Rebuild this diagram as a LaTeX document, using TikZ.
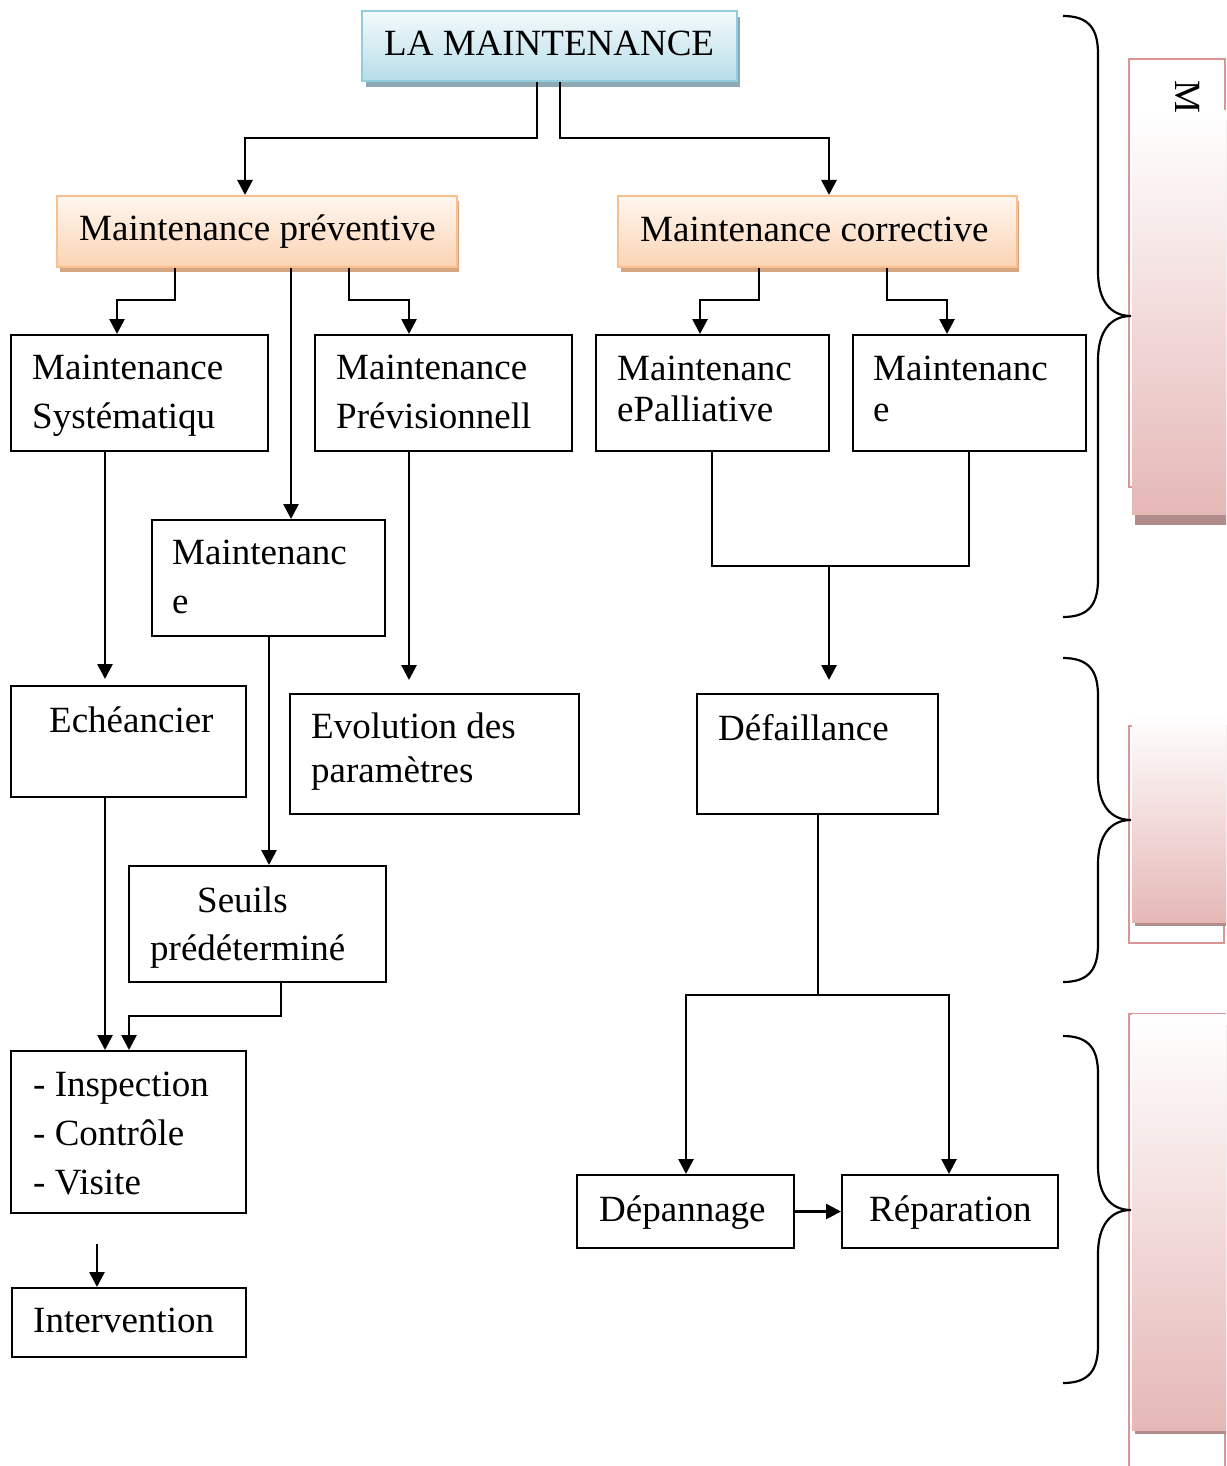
\documentclass[tikz,border=0pt]{standalone}
\usepackage{fontspec}
\setmainfont{Liberation Serif}
\usetikzlibrary{arrows.meta,calc}
\definecolor{blueTop}{HTML}{F4FAFC}
\definecolor{blueBot}{HTML}{B6DDE8}
\definecolor{blueBorder}{HTML}{92CDDC}
\definecolor{blueShadow}{HTML}{8EA9B2}
\definecolor{orTop}{HTML}{FFF6EF}
\definecolor{orBot}{HTML}{FBD4B4}
\definecolor{orBorder}{HTML}{FABF8F}
\definecolor{orShadow}{HTML}{D4A682}
\definecolor{pkTop}{HTML}{FFFFFF}
\definecolor{pkBot}{HTML}{E5B8B7}
\definecolor{pkBorder}{HTML}{DA9694}
\definecolor{pkShadow}{HTML}{B08D8C}
\newcommand\mkbox[6][plainbox]{%
  \node[#1, minimum width={#5-#3}, minimum height={#6-#4}] (#2) at ({(#3+#5)/2},{(#4+#6)/2}) {};}
\newcommand\mkbrace[3]{%
  \draw[bracestyle] (1063,#1) .. controls (1090,#1) and (1098,{#1+14}) .. (1098,{#1+38})
    -- (1098,{#2-44}) .. controls (1098,{#2-16}) and (1110,#2) .. (1131,#2)
    .. controls (1110,#2) and (1098,{#2+16}) .. (1098,{#2+44})
    -- (1098,{#3-38}) .. controls (1098,{#3-14}) and (1090,#3) .. (1063,#3);}
\begin{document}
\begin{tikzpicture}[x=1pt,y=-1pt,
  plainbox/.style={draw=black, line width=2pt, rectangle, inner sep=0pt},
  bluebox/.style={draw=blueBorder, line width=2pt, rectangle, inner sep=0pt, top color=blueTop, bottom color=blueBot},
  orbox/.style={draw=orBorder, line width=2pt, rectangle, inner sep=0pt, top color=orTop, bottom color=orBot},
  conn/.style={line width=2.7pt, line join=miter},
  arr/.style={conn, -{Triangle[width=15pt 0 1,length=15pt 0 1]}},
  txt/.style={anchor=base west, inner sep=0pt, font=\fontsize{37}{44}\selectfont},
  bracestyle/.style={line width=2.2pt},
]
\useasboundingbox (0,0) rectangle (1226,1466);
\clip (0,0) rectangle (1226,1466);
\fill[white] (0,0) rectangle (1226,1466);

% ---- right side panels ----
\draw[pkBorder, line width=2pt] (1129,59) rectangle (1225,487);
\fill[pkShadow] (1135,120) rectangle (1230,525);
\shade[top color=pkTop, bottom color=pkBot] (1132,111) rectangle (1230,514);
\node[anchor=base west, inner sep=0pt, rotate=-90, font=\fontsize{37}{44}\selectfont] (mlabel) at (1175,80) {M};

\draw[pkBorder, line width=2pt] (1129,726) rectangle (1224,943);
\fill[pkShadow] (1135,725) rectangle (1230,926);
\shade[top color=pkTop, bottom color=pkBot] (1132,713) rectangle (1230,922);

\draw[pkBorder, line width=2pt] (1129,1014) rectangle (1225,1490);
\fill[pkShadow] (1135,1025) rectangle (1230,1434);
\shade[top color=pkTop, bottom color=pkBot] (1132,1014) rectangle (1230,1430);

% ---- braces ----
\mkbrace{16}{316}{617}
\mkbrace{658}{820}{982}
\mkbrace{1036}{1210}{1383}

% ---- header boxes ----
\fill[blueShadow] (366,17) rectangle (740,87);
\mkbox[bluebox]{top}{362}{11}{737}{81}
\node[txt] (toptxt) at (384,56) {LA MAINTENANCE};

\fill[orShadow] (60,201) rectangle (459,272);
\mkbox[orbox]{pv}{57}{196}{457}{267}
\node[txt] (pvtxt) at (79,240) {Maintenance préventive};

\fill[orShadow] (621,201) rectangle (1019,272);
\mkbox[orbox]{pc}{618}{196}{1017}{267}
\node[txt] (pctxt) at (640,241) {Maintenance corrective};

% ---- plain boxes ----
\mkbox{sys}{11}{335}{268}{451}
\node[txt] (sys1) at (32,379) {Maintenance};
\node[txt] (sys2) at (32,428) {Systématiqu};

\mkbox{prev}{315}{335}{572}{451}
\node[txt] (prev1) at (336,379) {Maintenance};
\node[txt] (prev2) at (336,428) {Prévisionnell};

\mkbox{pal}{596}{335}{829}{451}
\node[txt] (pal1) at (617,380) {Maintenanc};
\node[txt] (pal2) at (617,421) {ePalliative};

\mkbox{mce}{853}{335}{1086}{451}
\node[txt] (mce1) at (873,380) {Maintenanc};
\node[txt] (mce2) at (873,421) {e};

\mkbox{mmid}{152}{520}{385}{636}
\node[txt] (mmid1) at (172,564) {Maintenanc};
\node[txt] (mmid2) at (172,613) {e};

\mkbox{ech}{11}{686}{246}{797}
\node[txt] (ech1) at (49,732) {Echéancier};

\mkbox{evo}{290}{694}{579}{814}
\node[txt] (evo1) at (311,738) {Evolution des};
\node[txt] (evo2) at (311,782) {paramètres};

\mkbox{def}{697}{694}{938}{814}
\node[txt] (def1) at (718,740) {Défaillance};

\mkbox{seu}{129}{866}{386}{982}
\node[txt] (seu1) at (197,912) {Seuils};
\node[txt] (seu2) at (150,960) {prédéterminé};

\mkbox{ins}{11}{1051}{246}{1213}
\node[txt] (ins1) at (33,1096) {- Inspection};
\node[txt] (ins2) at (33,1145) {- Contrôle};
\node[txt] (ins3) at (33,1194) {- Visite};

\mkbox{int}{12}{1288}{246}{1357}
\node[txt] (int1) at (33,1332) {Intervention};

\mkbox{dep}{577}{1175}{794}{1248}
\node[txt] (dep1) at (599,1221) {Dépannage};

\mkbox{rep}{842}{1175}{1058}{1248}
\node[txt] (rep1) at (869,1221) {Réparation};

% ---- junction coordinates ----
\coordinate (j1) at (537,138);  \coordinate (j2) at (245,138);
\coordinate (j3) at (560,138);  \coordinate (j4) at (829,138);
\coordinate (j5) at (175,300);  \coordinate (j6) at (117,300);
\coordinate (j7) at (291,300);
\coordinate (j8) at (349,300);  \coordinate (j9) at (409,300);
\coordinate (j10) at (759,300); \coordinate (j11) at (700,300);
\coordinate (j12) at (887,300); \coordinate (j13) at (947,300);
\coordinate (j14) at (712,566); \coordinate (j15) at (969,566);
\coordinate (j16) at (829,566);
\coordinate (j17) at (105,500);
\coordinate (j18) at (409,500);
\coordinate (j19) at (269,700);
\coordinate (j20) at (281,1016); \coordinate (j21) at (129,1016);
\coordinate (j22) at (818,995); \coordinate (j23) at (686,995); \coordinate (j24) at (949,995);
\coordinate (j25) at (97,1244);

% ---- connectors ----
\draw[arr] (top.south -| j1) -- (j1) -- (j2) -- (j2 |- pv.north);
\draw[arr] (top.south -| j3) -- (j3) -- (j4) -- (j4 |- pc.north);
\draw[arr] (pv.south -| j5) -- (j5) -- (j6) -- (j6 |- sys.north);
\draw[arr] (pv.south -| j7) -- (j7 |- mmid.north);
\draw[arr] (pv.south -| j8) -- (j8) -- (j9) -- (j9 |- prev.north);
\draw[arr] (pc.south -| j10) -- (j10) -- (j11) -- (j11 |- pal.north);
\draw[arr] (pc.south -| j12) -- (j12) -- (j13) -- (j13 |- mce.north);
\draw[conn] (pal.south -| j14) -- (j14) -- (j15) -- (mce.south -| j15);
\draw[arr, shorten >=13pt] (j16) -- (j16 |- def.north);
\draw[arr, shorten >=6pt] (sys.south -| j17) -- (j17 |- ech.north);
\draw[arr, shorten >=13pt] (prev.south -| j18) -- (j18 |- evo.north);
\draw[arr] (mmid.south -| j19) -- (j19 |- seu.north);
\draw[arr] (ech.south -| j17) -- (j17 |- ins.north);
\draw[arr] (seu.south -| j20) -- (j20) -- (j21) -- (j21 |- ins.north);
\draw[conn] (def.south -| j22) -- (j22);
\draw[arr] (j22) -- (j23) -- (j23 |- dep.north);
\draw[arr] (j22) -- (j24) -- (j24 |- rep.north);
\draw[arr] (dep.east) -- (rep.west);
\draw[arr] (j25) -- (j25 |- int.north);
\end{tikzpicture}
\end{document}
